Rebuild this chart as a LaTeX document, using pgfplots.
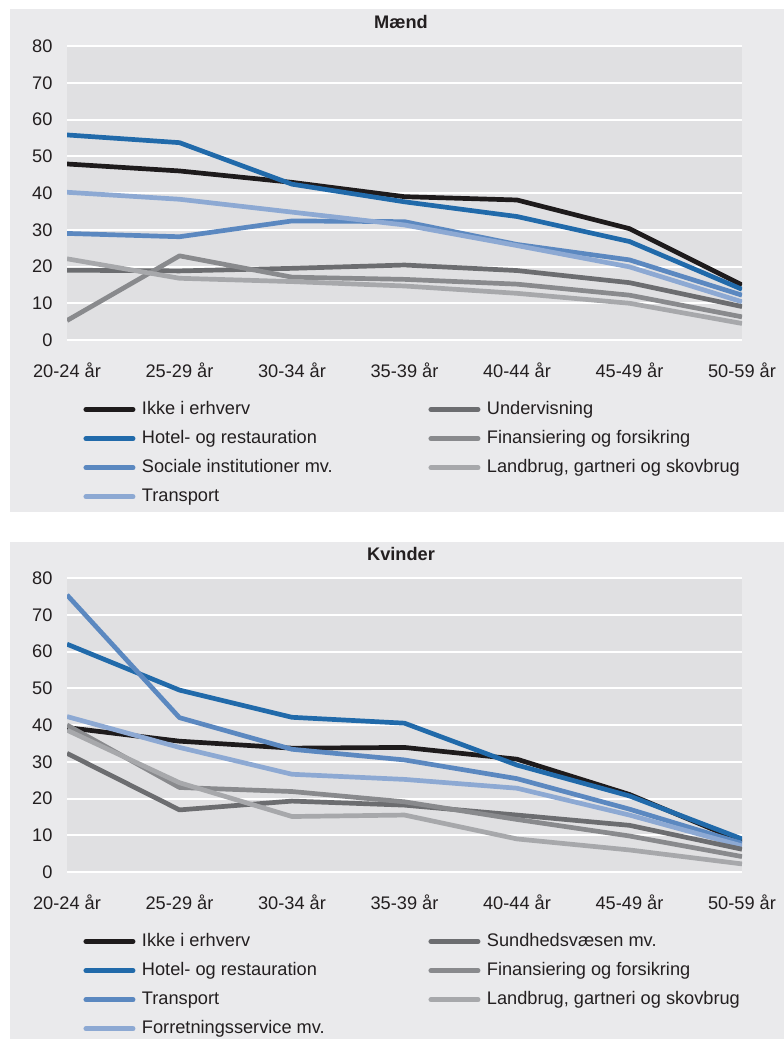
\documentclass[border=0pt]{standalone}
\usepackage{fontspec}
\setmainfont{Liberation Sans}
\usepackage{pgfplots}
\pgfplotsset{compat=1.18}
\definecolor{panelbg}{RGB}{234,234,236}
\definecolor{plotbg}{RGB}{224,224,226}
\definecolor{txt}{RGB}{35,31,32}
\definecolor{cBlack}{RGB}{30,27,28}
\definecolor{cHotel}{RGB}{33,106,170}
\definecolor{cMid}{RGB}{91,136,192}
\definecolor{cLight}{RGB}{141,169,211}
\definecolor{gDark}{RGB}{108,109,112}
\definecolor{gMid}{RGB}{137,138,141}
\definecolor{gLight}{RGB}{167,168,171}
\newcommand{\fs}{\fontsize{18.2bp}{22bp}\selectfont}
\newcommand{\lent}[1]{\makebox[200bp][l]{#1}}
\pgfplotsset{
  panel/.style={
    scale only axis, width=675bp, height=294bp,
    xmin=0, xmax=6, ymin=0, ymax=80,
    axis line style={draw=none},
    axis background/.style={fill=plotbg},
    ytick={0,10,...,80}, ymajorgrids,
    major grid style={white, line width=2bp},
    xtick={0,...,6},
    xticklabels={20-24 år,25-29 år,30-34 år,35-39 år,40-44 år,45-49 år,50-59 år},
    tick style={draw=none},
    /pgf/number format/assume math mode=true,
    ticklabel style={font=\fs, text=txt},
    yticklabel style={xshift=-11bp},
    xticklabel style={yshift=-19bp},
    every axis plot/.append style={line width=4.7bp, line join=round},
    legend columns=2,
    legend cell align=left,
    legend style={draw=none, fill=none, font=\fs, text=txt,
      at={(axis description cs:0.0244,-0.2075)}, anchor=north west,
      inner sep=0pt, outer sep=0pt,
      nodes={inner sep=0pt, text height=13bp, text depth=4bp},
      row sep=12.1bp,
      /tikz/every odd column/.append style={column sep=6.5bp},
      /tikz/every even column/.append style={column sep=86.5bp}},
    legend image code/.code={\draw[line width=5bp, line cap=round, #1] (0bp,0bp) -- (47bp,0bp);},
    title style={font=\bfseries\fs, text=txt, anchor=base, at={(axis description cs:0.5,1)}, yshift=12bp, xshift=-3.5bp},
  }
}
\begin{document}
\begin{tikzpicture}
\useasboundingbox (0bp,0bp) rectangle (784bp,-1039bp);
\fill[panelbg] (10bp,-9bp) rectangle (784bp,-512bp);
\fill[panelbg] (10bp,-542bp) rectangle (784bp,-1039bp);

% ---------------- Mænd ----------------
\begin{axis}[panel, at={(67bp,-340bp)}, anchor=south west, title={Mænd}]
\addlegendimage{cBlack}\addlegendentry{\lent{Ikke i erhverv}}
\addlegendimage{gDark}\addlegendentry{\lent{Undervisning}}
\addlegendimage{cHotel}\addlegendentry{\lent{Hotel- og restauration}}
\addlegendimage{gMid}\addlegendentry{\lent{Finansiering og forsikring}}
\addlegendimage{cMid}\addlegendentry{\lent{Sociale institutioner mv.}}
\addlegendimage{gLight}\addlegendentry{\lent{Landbrug, gartneri og skovbrug}}
\addlegendimage{cLight}\addlegendentry{\lent{Transport}}
\addplot[cBlack, forget plot] coordinates {(0,47.9) (1,46.0) (2,42.9) (3,39.0) (4,38.1) (5,30.3) (6,15.0)};
\addplot[cHotel, forget plot] coordinates {(0,55.8) (1,53.7) (2,42.4) (3,37.6) (4,33.6) (5,26.8) (6,13.8)};
\addplot[cMid, forget plot] coordinates {(0,29.0) (1,28.1) (2,32.4) (3,32.2) (4,26.0) (5,21.8) (6,12.2)};
\addplot[cLight, forget plot] coordinates {(0,40.2) (1,38.3) (2,34.8) (3,31.3) (4,25.7) (5,19.9) (6,10.4)};
\addplot[gDark, forget plot] coordinates {(0,19.0) (1,18.8) (2,19.5) (3,20.4) (4,18.9) (5,15.6) (6,9.1)};
\addplot[gMid, forget plot] coordinates {(0,5.3) (1,22.9) (2,17.1) (3,16.5) (4,15.2) (5,12.2) (6,6.3)};
\addplot[gLight, forget plot] coordinates {(0,22.1) (1,16.8) (2,15.9) (3,14.7) (4,12.7) (5,10.0) (6,4.5)};
\node[anchor=base west, inner sep=0pt, font=\fs, text=txt] at (axis description cs:0.0089,1.032) {Pr. 1.000};
\end{axis}

% ---------------- Kvinder ----------------
\begin{axis}[panel, at={(67bp,-872bp)}, anchor=south west, title={Kvinder}]
\addlegendimage{cBlack}\addlegendentry{\lent{Ikke i erhverv}}
\addlegendimage{gDark}\addlegendentry{\lent{Sundhedsvæsen mv.}}
\addlegendimage{cHotel}\addlegendentry{\lent{Hotel- og restauration}}
\addlegendimage{gMid}\addlegendentry{\lent{Finansiering og forsikring}}
\addlegendimage{cMid}\addlegendentry{\lent{Transport}}
\addlegendimage{gLight}\addlegendentry{\lent{Landbrug, gartneri og skovbrug}}
\addlegendimage{cLight}\addlegendentry{\lent{Forretningsservice mv.}}
\addplot[cBlack, forget plot] coordinates {(0,39.3) (1,35.6) (2,33.7) (3,33.9) (4,30.7) (5,21.1) (6,8.3)};
\addplot[cHotel, forget plot] coordinates {(0,62.0) (1,49.5) (2,42.1) (3,40.5) (4,29.1) (5,20.7) (6,9.0)};
\addplot[cMid, forget plot] coordinates {(0,75.4) (1,42.0) (2,33.4) (3,30.5) (4,25.4) (5,17.1) (6,7.8)};
\addplot[cLight, forget plot] coordinates {(0,42.3) (1,33.9) (2,26.6) (3,25.2) (4,22.8) (5,15.5) (6,7.1)};
\addplot[gDark, forget plot] coordinates {(0,32.3) (1,16.9) (2,19.3) (3,18.2) (4,15.5) (5,12.7) (6,6.2)};
\addplot[gMid, forget plot] coordinates {(0,40.0) (1,23.0) (2,21.9) (3,19.1) (4,14.3) (5,9.8) (6,4.2)};
\addplot[gLight, forget plot] coordinates {(0,38.6) (1,24.3) (2,15.1) (3,15.5) (4,9.0) (5,6.0) (6,2.2)};
\node[anchor=base west, inner sep=0pt, font=\fs, text=txt] at (axis description cs:0.0089,1.030) {Pr. 1.000};
\end{axis}
\end{tikzpicture}
\end{document}
